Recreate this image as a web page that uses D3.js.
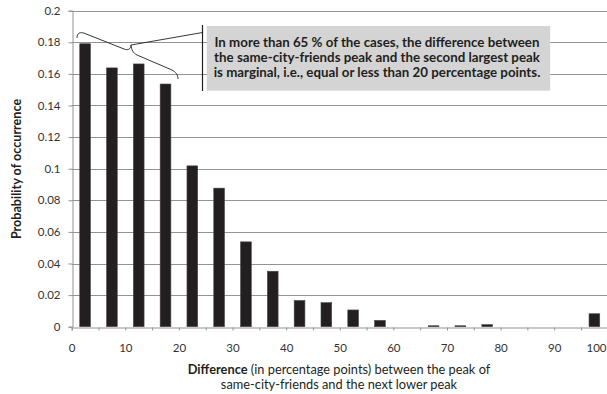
<!DOCTYPE html>
<html>
<head>
<meta charset="utf-8">
<script src="https://cdn.jsdelivr.net/npm/d3@7/dist/d3.min.js"></script>
<style>
  html, body { margin: 0; padding: 0; background: #fff; }
  svg { display: block; font-family: Lato, "Open Sans", sans-serif; }
</style>
</head>
<body>
<svg id="chart" width="607" height="394"></svg>
<script>
// Bins of the difference (in percentage points), 5 points wide each
const binStarts = [0, 5, 10, 15, 20, 25, 30, 35, 40, 45, 50, 55, 60, 65, 70, 75, 80, 85, 90, 95];
// Probability of occurrence per bin
const probabilities = [0.1791, 0.1638, 0.1663, 0.1536, 0.1018, 0.0877, 0.0537, 0.0351,
                       0.0166, 0.0152, 0.0106, 0.0040, 0, 0.0006, 0.0006, 0.0013, 0, 0, 0, 0.0082];
const xTickValues = [0, 5, 10, 15, 20, 25, 30, 35, 40, 45, 50, 55, 60, 65, 70, 75, 80, 85, 90, 95, 100];
const yTickValues = [0, 0.02, 0.04, 0.06, 0.08, 0.1, 0.12, 0.14, 0.16, 0.18, 0.2];
const noteLines = [
  "In more than 65 % of the cases, the difference between",
  "the same-city-friends peak and the second largest peak",
  "is marginal, i.e., equal or less than 20 percentage points."
];

const svg = d3.select("#chart");
const plot = { left: 71.7, right: 607.8, top: 10.7, bottom: 326.7 };

const x = d3.scaleLinear().domain([0, 100]).range([plot.left, plot.right]);
const xBand = d3.scaleBand().domain(binStarts).range([plot.left, plot.right])
  .paddingInner(0.6).paddingOuter(0.3);
const y = d3.scaleLinear().domain([0, 0.2]).range([plot.bottom, plot.top]);

// horizontal gridlines
svg.append("g").selectAll("line").data(yTickValues.filter(d => d > 0)).join("line")
  .attr("x1", plot.left).attr("x2", 607)
  .attr("y1", d => Math.round(y(d)) + 0.5).attr("y2", d => Math.round(y(d)) + 0.5)
  .attr("stroke", "#939393").attr("stroke-width", 1.1);

// bars
svg.append("g").selectAll("rect").data(binStarts).join("rect")
  .attr("x", d => xBand(d))
  .attr("width", xBand.bandwidth())
  .attr("y", (d, i) => y(probabilities[i]))
  .attr("height", (d, i) => plot.bottom - y(probabilities[i]))
  .attr("fill", "#231f20")
  .attr("stroke", "#4a4748").attr("stroke-width", 0.6);

// x axis
const xAxis = svg.append("g")
  .attr("transform", `translate(0,${Math.round(plot.bottom) + 0.5})`)
  .call(d3.axisBottom(x).tickValues(xTickValues).tickSize(3).tickPadding(13)
    .tickFormat(d => d % 10 === 0 ? d : ""));
xAxis.select(".domain").attr("stroke", "#939393");
xAxis.selectAll(".tick line").attr("stroke", "#939393");
xAxis.selectAll("text").attr("font-size", 11.5).attr("fill", "#333").attr("font-family", "Lato, sans-serif");
// the last label sits at the right edge, so it is anchored on its end
xAxis.selectAll(".tick text").filter(d => d === 100)
  .attr("text-anchor", "end").attr("x", 606 - x(100));

// y axis
const yAxis = svg.append("g")
  .attr("transform", `translate(${Math.round(plot.left) + 0.5},0)`)
  .call(d3.axisLeft(y).tickValues(yTickValues).tickSize(4).tickPadding(8)
    .tickFormat(d => d === 0 ? "0" : String(+d.toFixed(2))));
yAxis.select(".domain").attr("stroke", "#939393");
yAxis.selectAll(".tick line").attr("stroke", "#939393");
yAxis.selectAll("text").attr("font-size", 11.5).attr("fill", "#333").attr("font-family", "Lato, sans-serif");

// axis titles
svg.append("text")
  .attr("transform", "translate(21,169) rotate(-90)")
  .attr("text-anchor", "middle")
  .attr("font-size", 12.6).attr("font-weight", "bold").attr("fill", "#231f20")
  .text("Probability of occurrence");

const xTitle = svg.append("text")
  .attr("text-anchor", "middle").attr("font-size", 12.8).attr("fill", "#231f20");
const line1 = xTitle.append("tspan").attr("x", 339).attr("y", 374);
line1.append("tspan").attr("font-weight", "bold").text("Difference");
line1.append("tspan").text(" (in percentage points) between the peak of");
xTitle.append("tspan").attr("x", 339).attr("y", 389).text("same-city-friends and the next lower peak");

// annotation box
svg.append("rect")
  .attr("x", 206.7).attr("y", 26).attr("width", 343.5).attr("height", 64.7)
  .attr("fill", "#d4d4d4");
svg.append("line")
  .attr("x1", 202.5).attr("x2", 202.5).attr("y1", 25).attr("y2", 91)
  .attr("stroke", "#231f20").attr("stroke-width", 1.2);

svg.append("g").selectAll("text").data(noteLines).join("text")
  .attr("x", 377).attr("y", (d, i) => 47 + i * 15)
  .attr("text-anchor", "middle")
  .attr("font-size", 13.3).attr("font-weight", "bold").attr("fill", "#231f20")
  .text(d => d);

// brace over the first four bins, with a leader to the note
svg.append("path")
  .attr("d", "M77,38 C77,33 80,31.5 85,33.5 L124,49 C128,50.5 130.5,49.5 131,45 " +
             "C131.5,50 133,53 137,55 L172,70 C176,72 178,75 178,79")
  .attr("fill", "none").attr("stroke", "#231f20").attr("stroke-width", 0.9);
svg.append("line")
  .attr("x1", 131).attr("y1", 45).attr("x2", 202.5).attr("y2", 32.5)
  .attr("stroke", "#231f20").attr("stroke-width", 0.9);
</script>
</body>
</html>
